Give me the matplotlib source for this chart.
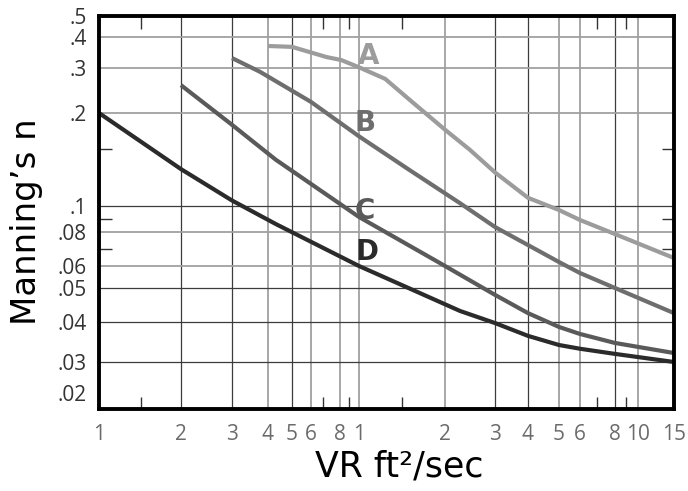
import numpy as np
import matplotlib
matplotlib.use("Agg")
import matplotlib.pyplot as plt

# Manning's n against VR (ft^2/sec)
vr_a = [0.4, 0.5, 0.72, 0.813, 1.0, 1.28, 1.58, 2.0, 2.45, 3, 4, 5, 6, 8, 15]
n_a = [0.368, 0.365, 0.332, 0.323, 0.302, 0.272, 0.225, 0.175, 0.149, 0.127,
       0.106, 0.0968, 0.0892, 0.0787, 0.0645]

vr_b = [0.3, 0.375, 0.6, 1.0, 1.58, 2.26, 3, 4, 5, 6, 8, 15]
n_b = [0.329, 0.29, 0.221, 0.166, 0.129, 0.102, 0.0837, 0.0722, 0.0622,
       0.0566, 0.05, 0.0424]

vr_c = [0.2, 0.3, 0.43, 0.6, 1.0, 1.93, 3, 4, 5, 6, 8, 15]
n_c = [0.257, 0.182, 0.139, 0.117, 0.0915, 0.0617, 0.0478, 0.0424, 0.0386,
       0.0367, 0.0344, 0.032]

vr_d = [0.1, 0.2, 0.3, 0.43, 1.0, 2.26, 3, 4, 5, 6, 8, 15]
n_d = [0.2, 0.13, 0.104, 0.086, 0.06, 0.043, 0.0397, 0.0362, 0.0339, 0.033,
       0.0318, 0.03]

x_ticks = [0.1, 0.2, 0.3, 0.4, 0.5, 0.6, 0.8, 1, 2, 3, 4, 5, 6, 8, 10, 15]
x_labels = ["1", "2", "3", "4", "5", "6", "8", "1", "2", "3", "4", "5", "6",
            "8", "10", "15"]
x_minor = [0.15, 0.7, 0.9, 1.5, 7, 9]
y_ticks = [0.02, 0.03, 0.04, 0.05, 0.06, 0.08, 0.1, 0.2, 0.3, 0.4, 0.5]
y_labels = [".02", ".03", ".04", ".05", ".06", ".08", ".1", ".2", ".3", ".4", ".5"]
y_minor = [0.07, 0.09, 0.15]

# the printed chart's scales are hand ruled, not true log: calibrate them
x_cal_v = [0.1, 0.15, 0.2, 0.3, 0.4, 0.5, 0.6, 0.7, 0.8, 0.9, 1, 1.5, 2, 3, 4,
           5, 6, 7, 8, 9, 10, 15]
x_cal_p = [99, 141, 181, 232, 268, 292, 311, 323, 340, 349, 359, 402, 445,
           495, 528, 559, 580, 597, 615, 626, 638, 674]
y_cal_v = [0.0162, 0.02, 0.03, 0.04, 0.05, 0.06, 0.07, 0.08, 0.09, 0.1, 0.15,
           0.2, 0.3, 0.4, 0.5]
y_cal_p = [-409, -393, -362, -322, -288, -266, -249, -232, -219, -206, -149,
           -113, -68, -37, -16]


def make_scale(vals, pos):
    lv = np.log10(vals)
    pos = np.asarray(pos, float)

    def fwd(v):
        v = np.clip(np.asarray(v, float), 1e-9, None)
        return np.interp(np.log10(v), lv, pos)

    def inv(p):
        return 10 ** np.interp(np.asarray(p, float), pos, lv)

    return fwd, inv


fig = plt.figure(figsize=(6.88, 4.91), dpi=100)
ax = fig.add_axes([99 / 688, 1 - 409 / 491, 575 / 688, 393 / 491])
ax.set_xscale("function", functions=make_scale(x_cal_v, x_cal_p))
ax.set_yscale("function", functions=make_scale(y_cal_v, y_cal_p))
ax.set_xlim(0.1, 15)
ax.set_ylim(0.0162, 0.5)

# grid rules, some inked darker than others
dark_x = [0.2, 0.3, 0.5, 3, 4, 8]
dark_y = [0.03, 0.04, 0.05, 0.1]
for v in x_ticks[1:-1]:
    if v in dark_x:
        ax.axvline(v, color="#3c3c3c", lw=0.9, zorder=1)
    else:
        ax.axvline(v, color="#a0a0a0", lw=1.3, zorder=1)
for v in y_ticks[1:-1]:
    if v in dark_y:
        ax.axhline(v, color="#3c3c3c", lw=0.9, zorder=1)
    else:
        ax.axhline(v, color="#a0a0a0", lw=1.3, zorder=1)

curves = [(vr_a, n_a, "#9c9c9c"), (vr_b, n_b, "#6e6e6e"),
          (vr_c, n_c, "#5a5a5a"), (vr_d, n_d, "#2b2b2b")]
for xs, ys, col in curves:
    ax.plot(xs, ys, color=col, lw=3.0, solid_capstyle="butt",
            solid_joinstyle="round", zorder=3)

for txt, x, y, col in [("A", 1.1, 0.335, "#9c9c9c"), ("B", 1.06, 0.184, "#6e6e6e"),
                       ("C", 1.06, 0.096, "#5a5a5a"), ("D", 1.08, 0.068, "#2b2b2b")]:
    ax.text(x, y, txt, color=col, fontsize=20, fontweight="bold",
            ha="center", va="center", zorder=4)

ax.set_xticks(x_ticks)
ax.set_xticklabels(x_labels)
ax.set_xticks(x_minor, minor=True)
ax.set_yticks(y_ticks)
ax.set_yticklabels(y_labels)
ax.set_yticks(y_minor, minor=True)
ax.tick_params(which="major", length=0, labelsize=15, pad=9)
ax.tick_params(axis="x", which="major", labelcolor="#6b6b6b", pad=11)
ax.tick_params(axis="y", which="major", labelcolor="#333333")
ax.tick_params(which="minor", direction="in", length=9, width=1.0,
               color="#333333", top=True, right=True)
for lab in ax.get_xticklabels() + ax.get_yticklabels():
    lab.set_fontfamily("Open Sans")

for sp in ax.spines.values():
    sp.set_linewidth(2.8)
    sp.set_zorder(5)

fig.text(27 / 688, 1 - 222 / 491, "Manning’s n", rotation=90, fontsize=24.5,
         ha="center", va="center", color="black")
fig.text(399 / 688, 1 - 466 / 491, "VR ft²/sec", fontsize=25,
         ha="center", va="center", color="black")

fig.savefig("out.png", dpi=100)
